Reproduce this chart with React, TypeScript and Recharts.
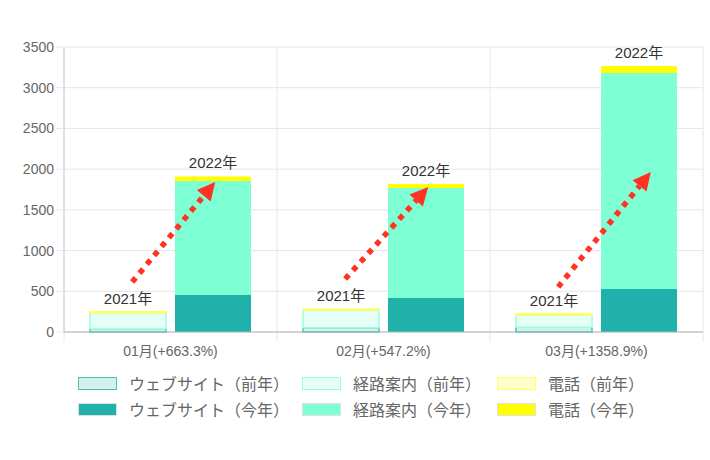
import {
  BarChart,
  Bar,
  XAxis,
  YAxis,
  CartesianGrid,
  LabelList,
  ReferenceLine,
} from 'recharts';

const months = ['01月', '02月', '03月'];
const growthRates = ['+663.3%', '+547.2%', '+1358.9%'];
const yearLabels = ['2021年', '2022年'];

// previous year
const webPrev = [37, 53, 58];
const routePrev = [196, 217, 151];
const telPrev = [17, 11, 15];
// this year
const webCur = [454, 418, 528];
const routeCur = [1401, 1351, 2654];
const telCur = [55, 49, 86];

const yTicks = [0, 500, 1000, 1500, 2000, 2500, 3000, 3500];
const catCenters = [0.5, 1.5, 2.5];
const catEdges = [0, 1, 2, 3];

// arrow annotations (x in category units, y in values)
const arrowTailX = [0.32, 1.32, 2.32];
const arrowTailY = [614, 651, 553];
const arrowHeadX = [0.71, 1.71, 2.755];
const arrowHeadY = [1843, 1780, 1966];

const FONT = "'Liberation Sans', Arial, 'Noto Sans CJK JP', sans-serif";

const data = months.map((m, i) => ({
  pos: catCenters[i],
  name: `${m}(${growthRates[i]})`,
  webPrev: webPrev[i],
  routePrev: routePrev[i],
  telPrev: telPrev[i],
  webCur: webCur[i],
  routeCur: routeCur[i],
  telCur: telCur[i],
  prevLabel: yearLabels[0],
  curLabel: yearLabels[1],
}));

const series = [
  { key: 'webPrev', name: 'ウェブサイト（前年）', stack: 'prev', fill: '#d2f0ee', stroke: '#4cc0b9' },
  { key: 'routePrev', name: '経路案内（前年）', stack: 'prev', fill: '#e5fff6', stroke: '#99ffdc' },
  { key: 'telPrev', name: '電話（前年）', stack: 'prev', fill: '#ffffcc', stroke: '#ffff66' },
  { key: 'webCur', name: 'ウェブサイト（今年）', stack: 'cur', fill: '#20b2aa', stroke: 'none' },
  { key: 'routeCur', name: '経路案内（今年）', stack: 'cur', fill: '#7fffd4', stroke: 'none' },
  { key: 'telCur', name: '電話（今年）', stack: 'cur', fill: '#ffff00', stroke: 'none' },
];

const Arrow = (p: any) => {
  const { x1, y1, x2, y2 } = p;
  const dx = x2 - x1;
  const dy = y2 - y1;
  const len = Math.hypot(dx, dy) || 1;
  const ux = dx / len;
  const uy = dy / len;
  const head = 18;
  const half = 9;
  const bx = x2 - ux * head;
  const by = y2 - uy * head;
  return (
    <g>
      <line x1={x1} y1={y1} x2={bx} y2={by} stroke="#ff3322" strokeWidth={5.5} strokeDasharray="5.5 6" />
      <polygon
        points={`${x2},${y2} ${bx - uy * half},${by + ux * half} ${bx + uy * half},${by - ux * half}`}
        fill="#ff3322"
      />
    </g>
  );
};

// vertical grid line at a category edge, with a short tick below the axis
const EdgeLine = (p: any) => {
  const { x1, y1, x2, y2 } = p;
  const bottom = Math.max(y1, y2);
  const top = Math.min(y1, y2);
  return <line x1={x1} y1={top} x2={x2} y2={bottom + 10} stroke="#e6e6e6" strokeWidth={1} />;
};

export default function App() {
  return (
    <div style={{ position: 'absolute', left: 0, top: 0, width: 710, height: 460, background: '#fff', fontFamily: FONT }}>
      <BarChart
        width={710}
        height={460}
        data={data}
        barGap={9}
        margin={{ top: 47, right: 7, bottom: 92, left: 0 }}
      >
        <CartesianGrid stroke="#e6e6e6" vertical={false} />
        {catEdges.map((e) => (
          <ReferenceLine key={`edge-${e}`} x={e} ifOverflow="visible" shape={EdgeLine} />
        ))}
        <XAxis
          dataKey="pos"
          type="number"
          domain={[0, 3]}
          ticks={catCenters}
          allowDataOverflow
          tickFormatter={(v: number) => data[Math.floor(v)]?.name ?? ''}
          tickLine={false}
          tickSize={0}
          tickMargin={14}
          height={36}
          axisLine={{ stroke: '#b3b3b3' }}
          tick={{ fill: '#666', fontSize: 14, fontFamily: FONT }}
        />
        <YAxis
          domain={[0, 3500]}
          ticks={yTicks}
          width={64}
          tickSize={8}
          tickLine={{ stroke: '#e6e6e6' }}
          axisLine={{ stroke: '#cccccc' }}
          tick={{ fill: '#666', fontSize: 14, fontFamily: FONT }}
        />
        {series.map((s) => (
          <Bar
            key={s.key}
            dataKey={s.key}
            name={s.name}
            stackId={s.stack}
            fill={s.fill}
            stroke={s.stroke}
            strokeWidth={s.stroke === 'none' ? 0 : 1.5}
            barSize={76}
            isAnimationActive={false}
          >
            {s.key === 'telPrev' && (
              <LabelList dataKey="prevLabel" position="top" offset={8} fill="#333" fontSize={15} fontFamily={FONT} />
            )}
            {s.key === 'telCur' && (
              <LabelList dataKey="curLabel" position="top" offset={8} fill="#333" fontSize={15} fontFamily={FONT} />
            )}
          </Bar>
        ))}
        {months.map((m, i) => (
          <ReferenceLine
            key={m}
            ifOverflow="visible"
            segment={[
              { x: arrowTailX[i], y: arrowTailY[i] },
              { x: arrowHeadX[i], y: arrowHeadY[i] },
            ]}
            shape={Arrow}
          />
        ))}
      </BarChart>
      <div
        style={{
          position: 'absolute',
          left: 78,
          top: 373,
          display: 'grid',
          gridTemplateColumns: '224px 195px 180px',
          rowGap: 6,
          fontSize: 16,
          color: '#666',
        }}
      >
        {series.map((s) => (
          <div key={s.key} style={{ display: 'flex', alignItems: 'center', height: 20 }}>
            <span
              style={{
                width: 37,
                height: 11,
                background: s.fill,
                border: `1.5px solid ${s.stroke === 'none' ? '#e0e0e0' : s.stroke}`,
                marginRight: 12,
                boxSizing: 'content-box',
              }}
            />
            <span style={{ whiteSpace: 'nowrap' }}>{s.name}</span>
          </div>
        ))}
      </div>
    </div>
  );
}
